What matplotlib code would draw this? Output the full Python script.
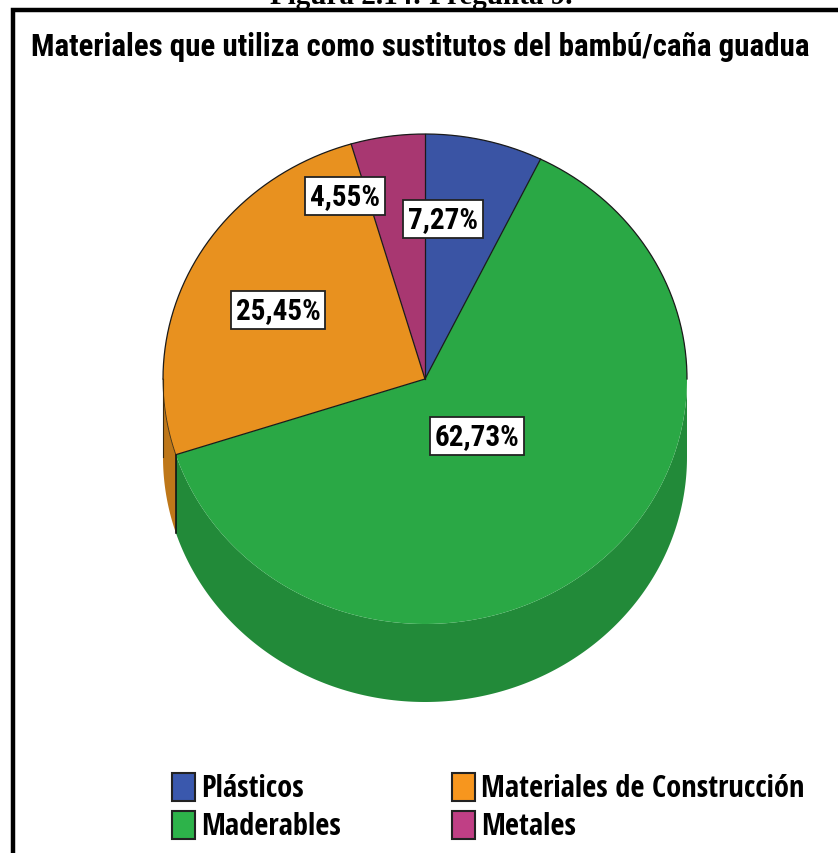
import numpy as np
import matplotlib.pyplot as plt
from matplotlib.patches import Polygon, Rectangle

# datos de la pregunta 9
categorias = ['Plásticos', 'Maderables', 'Materiales de Construcción', 'Metales']
porcentajes = [7.27, 62.73, 25.45, 4.55]
colores = ['#3a54a4', '#2aa845', '#e8911f', '#a83771']
colores_ley = ['#3a58ad', '#2db34a', '#f7961e', '#c03f85']
titulo = 'Materiales que utiliza como sustitutos del bambú/caña guadua'

# posiciones de las etiquetas (px)
pos_etq = [(443, 220), (477, 437), (278, 311), (345, 197)]

fig = plt.figure(figsize=(8.38, 8.54), dpi=100)
ax = fig.add_axes([0, 0, 1, 1])
ax.set_xlim(0, 838)
ax.set_ylim(854, 0)
ax.axis('off')

# encabezado del documento (recortado arriba)
ax.text(421, 4, 'Figura 2.14: Pregunta 9.', ha='center', va='baseline',
        fontsize=21, fontweight='bold', family='Liberation Serif')

# marco
ax.plot([12.5, 12.5, 840], [860, 11, 11], color='black', lw=3.2,
        solid_joinstyle='miter')

ax.text(420, 47, titulo, ha='center', va='center', fontsize=22.3,
        fontweight='bold', family=['Roboto Condensed', 'DejaVu Sans'])

# pastel 3D
cx, cy, rx, ry, prof = 425, 380, 262, 245, 78


def punto(t, dy=0):
    r = np.radians(t)
    return cx + rx * np.sin(r), cy - ry * np.cos(r) + dy


def oscurecer(c, f):
    c = np.array(plt.matplotlib.colors.to_rgb(c))
    return tuple(np.clip(c * f, 0, 1))


acum = np.concatenate([[0], np.cumsum(porcentajes)]) / 100 * 360

# cara lateral (solo la mitad frontal)
for i, col in enumerate(colores):
    t0, t1 = max(acum[i], 90), min(acum[i + 1], 270)
    if t1 <= t0:
        continue
    ts = np.linspace(t0, t1, 200)
    pts = [punto(t) for t in ts] + [punto(t, prof) for t in ts[::-1]]
    ax.add_patch(Polygon(pts, closed=True, fc=oscurecer(col, 0.82), ec='none'))

# borde vertical entre segmentos visibles
for t in acum[1:-1]:
    if 90 < t < 270:
        x0, y0 = punto(t)
        ax.plot([x0, x0], [y0, y0 + prof], color='#111111', lw=1.2)

# cara superior
for i, col in enumerate(colores):
    ts = np.linspace(acum[i], acum[i + 1], 200)
    pts = [(cx, cy)] + [punto(t) for t in ts]
    ax.add_patch(Polygon(pts, closed=True, fc=col, ec='none'))

# contorno: radios y arco posterior
for t in acum[:-1]:
    x0, y0 = punto(t)
    ax.plot([cx, x0], [cy, y0], color='#1a1a1a', lw=0.9)
ts = np.linspace(-90, 90, 300)
ax.plot(*zip(*[punto(t) for t in ts]), color='#1a1a1a', lw=0.9)
ts = np.linspace(acum[2], 270, 100)
ax.plot(*zip(*[punto(t) for t in ts]), color='#3a2a10', lw=0.6)
ax.plot([punto(270)[0]] * 2, [cy, cy + prof], color='#3a2a10', lw=0.8)

# etiquetas de porcentaje
for p, (x, y) in zip(porcentajes, pos_etq):
    ax.text(x, y, f'{p:.2f}%'.replace('.', ','), ha='center', va='center',
            fontsize=21, fontweight='bold',
            family=['Roboto Condensed', 'DejaVu Sans'],
            bbox=dict(boxstyle='square,pad=0.16', fc='white', ec='#222222', lw=1.3))

# leyenda en dos columnas
ley_x = [172, 452]
ley_y = [788, 826]
for k, (nom, col) in enumerate(zip(categorias, colores_ley)):
    lx, ly = ley_x[k // 2], ley_y[k % 2]
    ax.add_patch(Rectangle((lx, ly - 14), 23, 28, fc=col, ec='#222222', lw=1.5))
    ax.text(lx + 29, ly + 1, nom, ha='left', va='center', fontsize=22,
            fontweight='bold', family=['Open Sans Condensed', 'DejaVu Sans'])

plt.savefig('out.png', dpi=100)
